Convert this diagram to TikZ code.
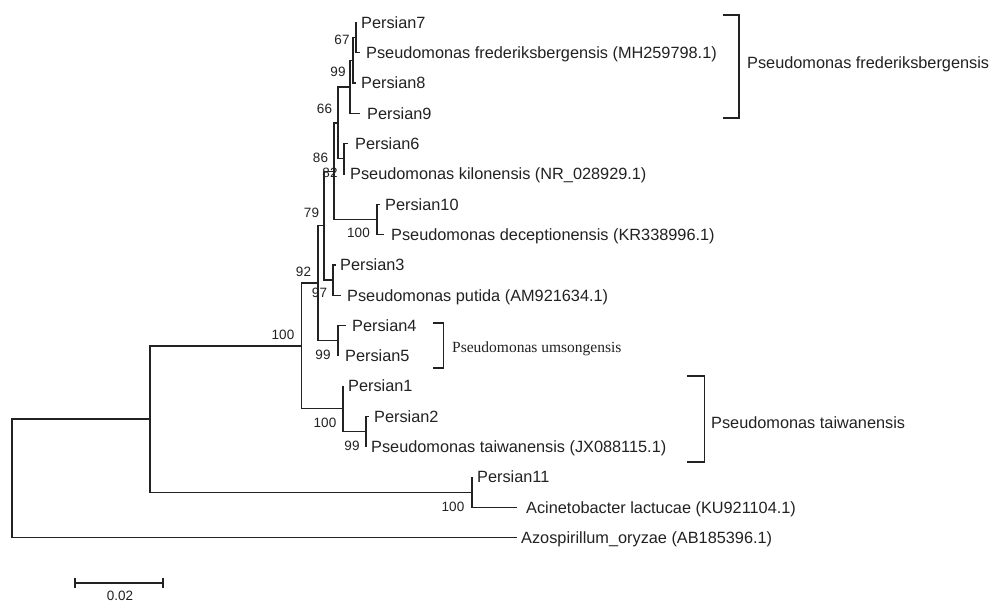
\documentclass[tikz,border=0pt]{standalone}
\usepackage{fontspec}
\setmainfont{Liberation Sans}
\newfontfamily\serifface{Liberation Serif}
\definecolor{ink}{HTML}{222222}
\begin{document}
\begin{tikzpicture}[x=1pt,y=-1pt,
  br/.style={line width=1.3pt, draw=ink},
  leaf/.style={anchor=west, inner sep=0pt, text height=11.6pt, text depth=0pt, text=ink, font=\fontsize{16.3}{18}\selectfont},
  bs/.style={anchor=center, inner sep=0pt, text height=9.7pt, text depth=0pt, text=ink, font=\fontsize{13.5}{15}\selectfont},
  clade/.style={anchor=west, inner sep=0pt, text height=11.6pt, text depth=0pt, text=ink, font=\fontsize{16.3}{18}\selectfont},
  cladeserif/.style={anchor=west, inner sep=0pt, text height=10.2pt, text depth=0pt, text=ink, font=\serifface\fontsize{15.5}{17}\selectfont},
]
\useasboundingbox (0,0) rectangle (990,604);
\fill[white] (0,0) rectangle (990,604);

% inner nodes
\coordinate (A) at (356,37.65);
\coordinate (B) at (353,60.4);
\coordinate (C) at (350,86.9);
\coordinate (E) at (344,158.85);
\coordinate (D) at (338,122.9);
\coordinate (H) at (377,219.45);
\coordinate (F) at (334,171.2);
\coordinate (I) at (333,280.05);
\coordinate (L) at (324,225.6);
\coordinate (J) at (338,340.65);
\coordinate (K) at (318,283.1);
\coordinate (O) at (366,431.55);
\coordinate (N) at (343,408.8);
\coordinate (M) at (301.5,346);
\coordinate (Q) at (472,492.15);
\coordinate (P) at (150,419.1);
\coordinate (R) at (12,478.35);

% leaf ends
\coordinate (e0) at (356,22.5);
\coordinate (e1) at (360,52.8);
\coordinate (e2) at (356,83.1);
\coordinate (e3) at (360,113.4);
\coordinate (e4) at (348,143.7);
\coordinate (e5) at (345,174);
\coordinate (e6) at (380,204.3);
\coordinate (e7) at (384,234.6);
\coordinate (e8) at (336,264.9);
\coordinate (e9) at (341,295.2);
\coordinate (e10) at (346,325.5);
\coordinate (e11) at (339,355.8);
\coordinate (e12) at (343,386.1);
\coordinate (e13) at (369,416.4);
\coordinate (e14) at (366,446.7);
\coordinate (e15) at (472,477);
\coordinate (e16) at (517,507.3);
\coordinate (e17) at (517,537.6);

% branches
\draw[br] (A) |- (e0);  \draw[br] (A) |- (e1);
\draw[br] (B) |- (A);   \draw[br] (B) |- (e2);
\draw[br] (C) |- (B);   \draw[br] (C) |- (e3);
\draw[br] (E) |- (e4);  \draw[br] (E) |- (e5);
\draw[br] (D) |- (C);   \draw[br] (D) |- (E);
\draw[br] (H) |- (e6);  \draw[br] (H) |- (e7);
\draw[br] (F) |- (D);   \draw[br] (F) |- (H);
\draw[br] (I) |- (e8);  \draw[br] (I) |- (e9);
\draw[br] (L) |- (F);   \draw[br] (L) |- (I);
\draw[br] (J) |- (e10); \draw[br] (J) |- (e11);
\draw[br] (K) |- (L);   \draw[br] (K) |- (J);
\draw[br] (O) |- (e13); \draw[br] (O) |- (e14);
\draw[br] (N) |- (e12); \draw[br] (N) |- (O);
\draw[br] (M) |- (K);   \draw[br] (M) |- (N);
\draw[br] (Q) |- (e15); \draw[br] (Q) |- (e16);
\draw[br] (P) |- (M);   \draw[br] (P) |- (Q);
\draw[br] (R) |- (P);   \draw[br] (R) |- (e17);

% leaf labels
\node[leaf] (t0) at (361,22.5) {Persian7};
\node[leaf] (t1) at (366,52.8) {Pseudomonas frederiksbergensis (MH259798.1)};
\node[leaf] (t2) at (361,83.1) {Persian8};
\node[leaf] (t3) at (367,113.4) {Persian9};
\node[leaf] (t4) at (355,143.7) {Persian6};
\node[leaf] (t5) at (350,174) {Pseudomonas kilonensis (NR\_028929.1)};
\node[leaf] (t6) at (385,204.3) {Persian10};
\node[leaf] (t7) at (391,234.6) {Pseudomonas deceptionensis (KR338996.1)};
\node[leaf] (t8) at (340,264.9) {Persian3};
\node[leaf] (t9) at (347,295.2) {Pseudomonas putida (AM921634.1)};
\node[leaf] (t10) at (352,325.5) {Persian4};
\node[leaf] (t11) at (345,355.8) {Persian5};
\node[leaf] (t12) at (348,386.1) {Persian1};
\node[leaf] (t13) at (374,416.4) {Persian2};
\node[leaf] (t14) at (371,446.7) {Pseudomonas taiwanensis (JX088115.1)};
\node[leaf] (t15) at (477,477) {Persian11};
\node[leaf] (t16) at (526,507.3) {Acinetobacter lactucae (KU921104.1)};
\node[leaf] (t17) at (521,537.6) {Azospirillum\_oryzae (AB185396.1)};

% bootstrap values
\node[bs] (bA) at (342,40) {67};
\node[bs] (bB) at (338,72) {99};
\node[bs] (bD) at (324.5,109) {66};
\node[bs] (bF) at (320.5,158) {86};
\node[bs] (bE) at (330,172.5) {82};
\node[bs] (bL) at (311.5,213) {79};
\node[bs] (bH) at (358.5,233) {100};
\node[bs] (bK) at (303.5,272) {92};
\node[bs] (bI) at (319.5,293) {97};
\node[bs] (bM) at (283,335) {100};
\node[bs] (bJ) at (323,355) {99};
\node[bs] (bN) at (325,423) {100};
\node[bs] (bO) at (352,445.5) {99};
\node[bs] (bQ) at (453,507) {100};

% clade brackets
\draw[br] (723,15) -- (739,15) -- (739,118) -- (723,118);
\node[clade] (cf) at (747,63) {Pseudomonas frederiksbergensis};
\draw[br] (433,323) -- (443.5,323) -- (443.5,368) -- (433,368);
\node[cladeserif] (cu) at (452,347) {Pseudomonas umsongensis};
\draw[br] (687,376) -- (704.5,376) -- (704.5,462) -- (687,462);
\node[clade] (ct) at (711,423) {Pseudomonas taiwanensis};

% scale bar
\coordinate (sL) at (75,583);
\coordinate (sR) at (163,583);
\draw[br] (sL) -- (sR);
\draw[br] ([yshift=-5pt]sL) -- ([yshift=5pt]sL);
\draw[br] ([yshift=-5pt]sR) -- ([yshift=5pt]sR);
\node[bs] (sc) at (120,596) {0.02};
\end{tikzpicture}
\end{document}
